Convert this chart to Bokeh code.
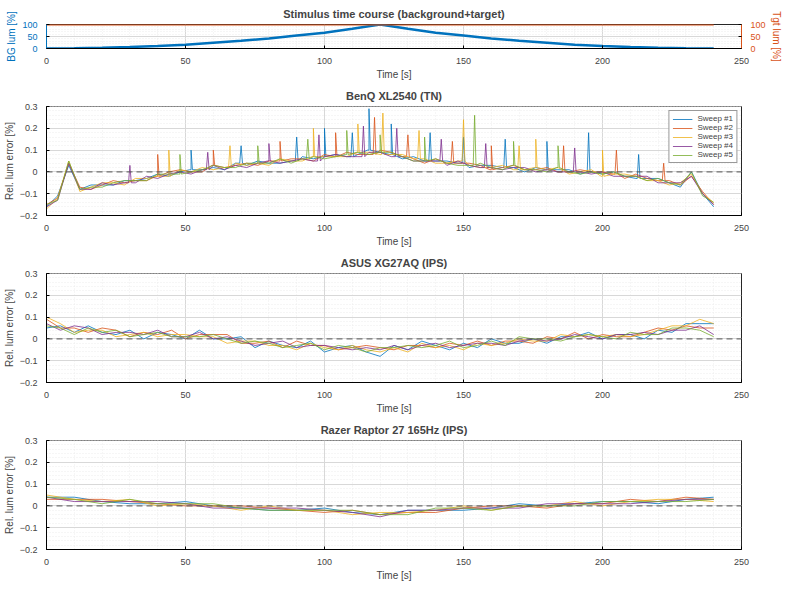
from bokeh.plotting import figure
from bokeh.layouts import column
from bokeh.models import LinearAxis, Range1d, SingleIntervalTicker, Span, Legend, LegendItem
from bokeh.embed import file_html
from bokeh.resources import INLINE

COLORS = ["#0072BD", "#D95319", "#EDB120", "#7E2F8E", "#77AC30"]
FONT = "Liberation Sans"

# ---- Stimulus (top panel) ----
stim_t = [0,10,20,30,40,50,60,70,80,90,100,110,120,130,140,150,160,170,180,190,200,210,220,230,240]
bg_lum = [0,1,3,6,10,16,24,32,42,54,66,82,100,82,66,54,42,32,24,16,10,6,3,1,0]
tgt_t = [0,240]
tgt_lum = [100,100]

# ---- BenQ (hundredths) ----
benq_t = list(range(0,241,4))
benq_base = [-16,-12,4,-8,-7,-6,-5,-5,-4,-3,
             -2,-1,0,0,1,2,2,3,3,4,
             4,5,5,6,6,7,7,8,8,9,
             9,8,7,6,5,5,4,4,3,3,
             2,2,2,1,1,1,1,0,0,0,
             -1,-1,-2,-2,-3,-4,-5,-6,-1,-10,-15]
benq_dev = [
 [0,1,-1,0,1,0,-1,1,0,0, 1,-1,0,1,0,0,-1,1,0,1, 0,-1,0,1,0,0,1,-1,0,1, 0,0,-1,1,0,0,1,0,-1,0, 1,0,0,-1,1,0,0,1,-1,0, 0,1,0,-1,0,1,0,-1,1,0,-1],
 [1,0,0,1,-1,0,1,0,0,-1, 0,1,1,0,-1,1,0,0,1,-1, 1,0,1,0,-1,1,0,1,0,-1, 1,1,0,0,-1,1,0,0,1,0, -1,0,1,0,0,1,-1,0,1,0, 1,0,-1,1,0,0,1,0,-1,1,0],
 [-1,0,1,-1,0,1,0,-1,1,0, 0,-1,1,0,1,-1,0,1,0,0, -1,1,0,-1,1,0,0,-1,1,0, -1,0,1,0,1,-1,0,1,0,-1, 0,1,-1,0,1,0,1,-1,0,1, -1,0,1,0,-1,0,-1,1,0,0,1],
 [0,-1,0,0,-1,1,-1,0,-1,1, -1,0,0,-1,0,1,-1,0,-1,0, 1,-1,0,0,-1,0,1,-1,-1,0, 0,-1,0,-1,0,0,-1,1,0,-1, 0,-1,0,1,-1,0,-1,0,0,-1, 1,-1,0,0,1,-1,0,1,-1,0,0],
 [1,-1,1,0,0,-1,0,1,0,-1, 1,0,-1,0,0,1,0,-1,1,0, 0,1,-1,0,1,-1,0,0,1,-1, 0,1,0,-1,0,1,0,-1,0,1, 0,-1,1,0,0,-1,1,0,-1,0, 0,1,0,0,-1,1,0,0,1,-1,1],
]
benq_spikes = [
 [(52,10),(70,12),(90,16),(100,20),(110,18),(116,29),(124,22),(138,18),(150,16),(165,15),(180,14),(195,18),(213,8)],
 [(40,8),(60,10),(84,14),(104,18),(118,25),(130,17),(146,14),(160,12),(186,12),(205,10),(222,4)],
 [(44,10),(66,12),(96,20),(112,22),(121,27),(134,19),(150,24),(170,12),(176,15),(200,10)],
 [(30,3),(58,9),(80,13),(98,17),(114,21),(126,20),(142,15),(158,13),(190,11)],
 [(48,8),(76,12),(94,15),(108,19),(120,17),(136,16),(154,26),(168,14),(184,12)],
]

# ---- ASUS (hundredths) ----
asus_t = list(range(0,241,5))
asus_base = [7,5,4,4,3,3,2,2,2,2,
             1,2,1,0,-1,-2,-2,-3,-3,-3,
             -4,-4,-4,-5,-5,-4,-4,-3,-3,-3,
             -3,-3,-2,-2,-1,-1,0,0,1,1,
             1,1,2,2,3,4,5,6,5]
asus_dev = [
 [-2,1,-1,2,0,-1,2,-2,1,0, -1,2,-1,0,2,-2,1,0,-1,2, -2,0,1,-1,-3,1,-1,2,0,-2, 1,-1,2,0,-1,1,-2,1,0,2, -1,1,0,-2,1,-1,2,1,2],
 [2,0,1,-1,2,1,-1,1,0,2, -1,0,1,2,-1,0,1,-1,2,0, 1,-1,0,2,1,-1,1,0,-1,1, 0,2,-1,1,0,-1,1,0,2,-1, 1,0,-1,1,2,0,1,-1,0],
 [3,2,-1,0,1,-2,0,1,-1,0, 1,-1,0,-2,0,1,-1,0,-2,1, 0,-1,1,0,-1,0,-2,1,-1,0, -2,1,-1,0,1,0,-1,2,0,1, 0,1,-1,0,1,2,1,3,2],
 [0,-1,2,1,-1,0,1,0,2,-1, 0,1,-1,1,0,-1,0,2,-1,0, 1,0,-1,1,0,1,-1,0,1,-1, 0,1,0,-1,0,1,-1,0,1,0, -1,1,0,1,-1,0,-1,0,-3],
 [-1,0,-2,1,0,1,-1,0,1,-1, 0,-1,1,0,-1,1,0,-1,0,1, -1,1,0,-1,1,0,1,-1,0,2, -1,0,1,-1,2,1,0,-1,0,1, 0,-1,1,0,-1,1,0,-2,-4],
]

# ---- Razer (hundredths) ----
razer_t = list(range(0,241,10))
razer_base = [4,3,2,2,1,1,0,-1,-1,-2,-2,-3,-4,-3,-2,-1,-1,0,0,1,1,2,2,3,3]
razer_dev = [
 [0,1,0,-1,0,1,0,0,-1,0,1,0,0,1,0,-1,0,1,0,0,1,0,-1,0,1],
 [-1,0,1,0,0,-1,0,1,0,0,-1,1,0,0,-1,0,1,0,-1,0,0,1,0,1,0],
 [1,0,0,1,-1,0,0,-1,1,0,0,-1,1,0,0,1,-1,0,0,1,-1,0,1,0,-1],
 [0,-1,0,0,1,0,-1,0,0,1,0,0,-1,1,0,0,0,-1,1,0,0,-1,0,0,0],
 [0,0,-1,1,0,0,1,0,-1,0,0,1,0,-1,1,0,-1,0,0,-1,1,0,0,-1,0],
]

def sweep(ts, base, dev, spikes=()):
    pts = [(t, (b + d) / 100.0) for t, b, d in zip(ts, base, dev)]
    for st, h in spikes:
        i = min(range(len(ts)), key=lambda k: abs(ts[k] - st))
        b = (base[i] + dev[i]) / 100.0
        pts += [(st - 0.5, b), (st, h / 100.0), (st + 0.5, b)]
    pts.sort()
    return [p[0] for p in pts], [p[1] for p in pts]

def style(p, title, ylabel):
    p.title.text = title
    p.title.align = "center"
    p.title.text_font = FONT
    p.title.text_font_size = "11px"
    p.title.text_font_style = "bold"
    p.outline_line_color = "#262626"
    for ax in p.axis:
        ax.major_label_text_font = FONT
        ax.major_label_text_font_size = "9px"
        ax.axis_label_text_font = FONT
        ax.axis_label_text_font_size = "10px"
        ax.axis_label_text_font_style = "normal"
        ax.axis_label_standoff = 2
        ax.minor_tick_line_color = None
        ax.major_tick_in = 3
        ax.major_tick_out = 0
    p.xaxis.axis_label = "Time [s]"
    p.yaxis[0].axis_label = ylabel
    p.xaxis[0].ticker = SingleIntervalTicker(interval=50, num_minor_ticks=5)
    p.xgrid.grid_line_color = "#d8d8d8"
    p.ygrid.grid_line_color = "#d8d8d8"
    p.xgrid.minor_grid_line_color = "#ececec"
    p.ygrid.minor_grid_line_color = "#ececec"
    p.xgrid.minor_grid_line_dash = "1 2"
    p.ygrid.minor_grid_line_dash = "1 2"

common = dict(width=784, output_backend="svg", toolbar_location=None,
              min_border_left=30, min_border_right=32, min_border_top=2, min_border_bottom=2)

p1 = figure(height=82, x_range=Range1d(0, 250), y_range=Range1d(0, 100), **common)
p1.extra_y_ranges = {"tgt": Range1d(0, 100)}
rax = LinearAxis(y_range_name="tgt", ticker=SingleIntervalTicker(interval=50))
p1.add_layout(rax, "right")
p1.line(stim_t, bg_lum, color="#0072BD", line_width=2.5)
p1.line(tgt_t, tgt_lum, color="#D95319", line_width=2, y_range_name="tgt")
style(p1, "Stimulus time course (background+target)", "BG lum [%]")
rax.axis_label = "Tgt lum [%]"
p1.yaxis[0].ticker = SingleIntervalTicker(interval=50, num_minor_ticks=5)
p1.yaxis[0].axis_label_text_color = "#0072BD"
p1.yaxis[0].major_label_text_color = "#0072BD"
p1.yaxis[0].axis_line_color = "#0072BD"
rax.axis_label_text_color = "#D95319"
rax.major_label_text_color = "#D95319"
rax.axis_line_color = "#D95319"

def err_panel(title, ts, base, devs, spikes=None, legend=False):
    p = figure(height=167, x_range=Range1d(0, 250), y_range=Range1d(-0.2, 0.3001), **common)
    style(p, title, "Rel. lum error [%]")
    p.yaxis[0].ticker = SingleIntervalTicker(interval=0.1, num_minor_ticks=5)
    p.add_layout(Span(location=0, dimension="width", line_color="#555555", line_dash="6 4", line_width=1))
    items = []
    for k in range(5):
        x, y = sweep(ts, base, devs[k], spikes[k] if spikes else ())
        r = p.line(x, y, color=COLORS[k], line_width=0.8)
        items.append(LegendItem(label="Sweep #%d" % (k + 1), renderers=[r]))
    if legend:
        lg = Legend(items=items, location="top_right", label_text_font=FONT, label_text_font_size="8px",
                    glyph_height=8, label_height=8, spacing=0, padding=3, margin=4,
                    border_line_color="#333333")
        p.add_layout(lg, "center")
    return p

p2 = err_panel("BenQ XL2540 (TN)", benq_t, benq_base, benq_dev, benq_spikes, legend=True)
p3 = err_panel("ASUS XG27AQ (IPS)", asus_t, asus_base, asus_dev)
p4 = err_panel("Razer Raptor 27 165Hz (IPS)", razer_t, razer_base, razer_dev)

layout = column(p1, p2, p3, p4, spacing=0)
open("out.html", "w").write(file_html(layout, INLINE))
